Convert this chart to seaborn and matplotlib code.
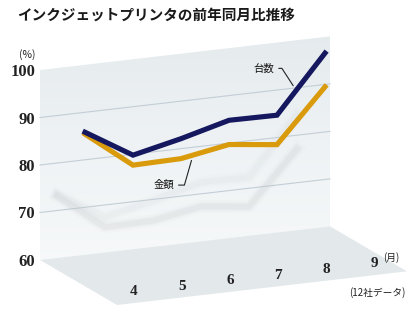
import numpy as np
import matplotlib
matplotlib.use("Agg")
import matplotlib.pyplot as plt
import matplotlib.transforms as mtrans
from matplotlib.patches import Polygon
from matplotlib.colors import LinearSegmentedColormap
import seaborn as sns

# ---- data ----
months = [4, 5, 6, 7, 8, 9]
month_labels = ["4", "5", "6", "7", "8", "9"]
units = [85.8, 79.8, 82.1, 84.8, 84.7, 96.6]      # 台数
amount = [85.4, 77.7, 77.9, 79.7, 78.5, 89.5]     # 金額
yticks = [60, 70, 80, 90, 100]
title = "インクジェットプリンタの前年同月比推移"

plt.rcParams['font.family'] = ['Noto Sans CJK JP', 'DejaVu Sans']

W, H, DPI = 420, 314, 100
fig = plt.figure(figsize=(W / DPI, H / DPI), dpi=DPI)
ax = fig.add_axes([0, 0, 1, 1])
ax.set_xlim(2.229, 10.979)
ax.set_ylim(48.63, 114.74)
ax.axis('off')

X0, X1 = 3.0625, 9.104       # wall left / right
K = 1.172                    # perspective skew (value units per month)
skew = mtrans.Affine2D(np.array([[1, 0, 0], [K, 1, -K * X0], [0, 0, 1]]))
T = skew + ax.transData


def off(dx, dy):
    return mtrans.ScaledTranslation(dx / DPI, -dy / DPI, fig.dpi_scale_trans)


# ---- back wall with gradient ----
wall = Polygon([[X0, 60], [X1, 60], [X1, 100], [X0, 100]], closed=True,
               transform=T, facecolor='none', edgecolor='none')
ax.add_patch(wall)
grad = np.linspace(0, 1, 256).reshape(-1, 1)
cmap = LinearSegmentedColormap.from_list('w', ['#f7f9fa', '#eef2f4', '#e3e9ec'])
im = ax.imshow(grad, extent=[X0, X1, 58, 112], origin='lower', cmap=cmap,
               aspect='auto', transform=ax.transData, zorder=0)
im.set_clip_path(wall)

# ---- floor ----
fdx, fdy = 1.604, -11.35
floor = Polygon([[X0, 60], [X1, 60], [X1 + fdx, 60 + fdy], [X0 + fdx, 60 + fdy]],
                closed=True, transform=T, facecolor='#e3e8eb', edgecolor='none',
                zorder=0.5)
ax.add_patch(floor)

# ---- gridlines ----
for v in [70, 80, 90]:
    ax.plot([X0, X1], [v, v], transform=T, color='#c3ced6', lw=0.8, zorder=1)

# ---- shadows ----
shT = T + off(-28, 62)
for w, a in [(9, 0.06), (6, 0.10), (4, 0.14)]:
    sns.lineplot(x=months, y=units, ax=ax, color='#d0d5d8', lw=w, alpha=a * 0.7,
                 transform=shT, zorder=1.5, legend=False)
    sns.lineplot(x=months, y=amount, ax=ax, color='#c2c7ca', lw=w, alpha=a,
                 transform=shT, zorder=1.6, legend=False)

# ---- main lines ----
sns.lineplot(x=months, y=amount, ax=ax, color='#d99a0c', lw=3.7,
             transform=T, zorder=3, legend=False, solid_joinstyle='miter')
sns.lineplot(x=months, y=units, ax=ax, color='#15185e', lw=3.7,
             transform=T, zorder=4, legend=False, solid_joinstyle='miter')

# ---- y tick labels ----
for v in yticks:
    ax.text(X0, v, str(v), transform=T + off(-5, 2), ha='right', va='center',
            family='Liberation Serif', fontsize=12, fontweight='bold',
            color='#222222')
ax.text(X0, 100, "(%)", transform=T + off(-13, -15), ha='center', va='center',
        fontsize=7.5, color='#222222')

# ---- x tick labels on floor ----
for m, lab in zip(months, month_labels):
    ax.text(m, 60, lab, transform=T + off(49, 37), ha='center', va='center',
            family='Liberation Serif', fontsize=11, fontweight='bold',
            color='#222222')
ax.text(months[-1], 60, "(月)", transform=T + off(66, 31), ha='center',
        va='center', fontsize=7, color='#222222')

# ---- labels with leaders ----
mA = 8.4
vA = units[4] + (mA - 8) * (units[5] - units[4])
ax.annotate("台数", xy=(mA, vA), xycoords=T, xytext=(-32, 22),
            textcoords='offset pixels', ha='center', va='center', fontsize=7.5,
            color='#111111',
            arrowprops=dict(arrowstyle='-', color='#222222', lw=0.8,
                            relpos=(1, 0.5), shrinkA=1, shrinkB=4,
                            connectionstyle='angle,angleA=0,angleB=-57,rad=0'),
            zorder=5)
mB = 6.25
vB = amount[2] + (mB - 6) * (amount[3] - amount[2])
ax.annotate("金額", xy=(mB, vB), xycoords=T, xytext=(-29, -30),
            textcoords='offset pixels', ha='center', va='center', fontsize=7.5,
            color='#111111',
            arrowprops=dict(arrowstyle='-', color='#222222', lw=0.8,
                            relpos=(1, 0.5), shrinkA=1, shrinkB=4,
                            connectionstyle='angle,angleA=0,angleB=74,rad=0'),
            zorder=5)

# ---- title & note ----
fig.text(17 / W, 1 - 15 / H, title, ha='left', va='center', fontsize=10.5,
         fontweight='bold', color='#1a1a1a')
fig.text(377 / W, 1 - 293 / H, "(12社データ)", ha='center', va='center',
         fontsize=7, color='#222222')

fig.savefig("out.png", dpi=DPI)
